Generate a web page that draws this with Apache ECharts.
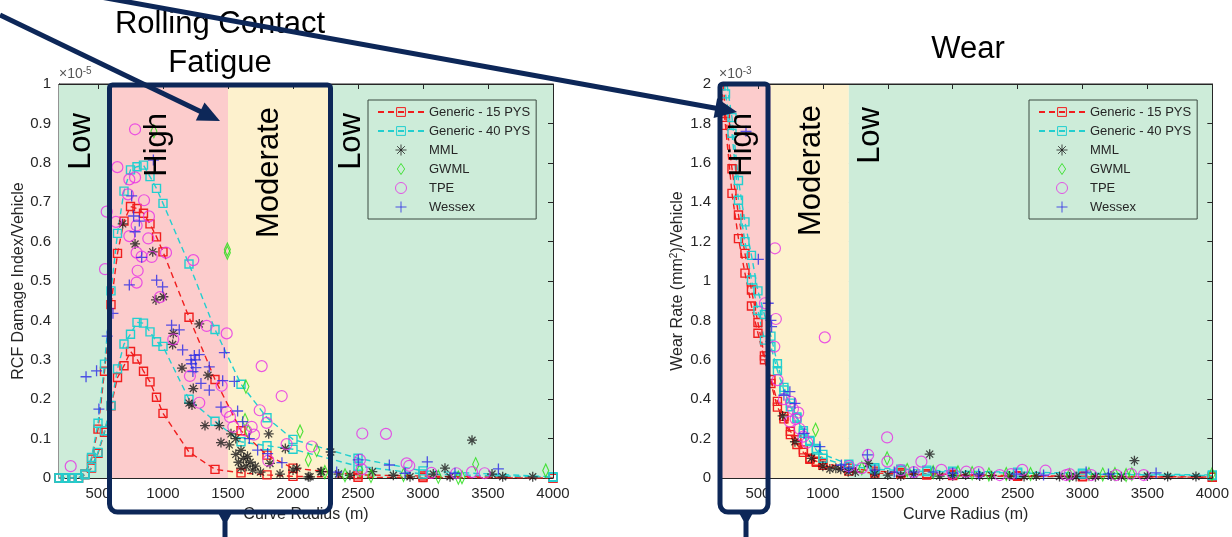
<!DOCTYPE html>
<html>
<head>
<meta charset="utf-8">
<title>RCF damage and wear vs curve radius</title>
<script src="https://cdn.jsdelivr.net/npm/echarts@6/dist/echarts.min.js"></script>
<style>
  html, body { margin: 0; padding: 0; background: #fff; }
  #chart { width: 1232px; height: 537px; }
</style>
</head>
<body>
<div id="chart"></div>
<script>
// ---- data ----
const xTicks = [500, 1000, 1500, 2000, 2500, 3000, 3500, 4000];
const legendNames = ['Generic - 15 PYS', 'Generic - 40 PYS', 'MML', 'GWML', 'TPE', 'Wessex'];

// radii of the generic model runs
const genericRadius = [200, 250, 300, 350, 400, 450, 500, 550, 600, 650, 700, 750, 800, 850, 900, 950, 1000, 1200, 1400, 1600, 1800, 2000, 2500, 3000, 4000];

// RCF damage index (x1e-5)
const rcf15Upper = [0, 0, 0, 0, 0.01, 0.048, 0.124, 0.271, 0.44, 0.57, 0.652, 0.689, 0.684, 0.672, 0.645, 0.612, 0.574, 0.408, 0.25, 0.12, 0.058, 0.025, 0.008, 0.005, 0];
const rcf15Lower = [0, 0, 0, 0, 0.008, 0.025, 0.063, 0.116, 0.183, 0.255, 0.285, 0.321, 0.302, 0.271, 0.244, 0.205, 0.164, 0.066, 0.022, 0.013, 0.008, 0.004, 0.002, 0.001, 0];
const rcf40Upper = [0, 0, 0, 0, 0.01, 0.052, 0.139, 0.289, 0.475, 0.621, 0.728, 0.782, 0.79, 0.794, 0.765, 0.735, 0.697, 0.543, 0.377, 0.238, 0.153, 0.098, 0.05, 0.018, 0.003];
const rcf40Lower = [0, 0, 0, 0, 0.008, 0.027, 0.065, 0.12, 0.184, 0.277, 0.34, 0.365, 0.395, 0.393, 0.371, 0.346, 0.334, 0.2, 0.144, 0.092, 0.082, 0.073, 0.03, 0.01, 0.002];

const rcfMML = [[690,0.645],[785,0.594],[921,0.574],[946,0.452],[1003,0.46],[1079,0.367],[1074,0.339],[1279,0.391],[1146,0.279],[1233,0.227],[1346,0.261],[1223,0.185],[1200,0.19],[1323,0.133],[1433,0.133],[1446,0.09],[1510,0.084],[1523,0.112],[1560,0.06],[1580,0.04],[1600,0.07],[1620,0.05],[1640,0.03],[1650,0.055],[1670,0.04],[1690,0.02],[1710,0.03],[1600,0.025],[1560,0.1],[1813,0.112],[1941,0.075],[1823,0.037],[2028,0.025],[2118,0.003],[2221,0.016],[2290,0.066],[2213,0.016],[2131,0.003],[2438,0.007],[2610,0.016],[2772,0.007],[2900,0.003],[3079,0.01],[3169,0.025],[3208,0.003],[3377,0.096],[3531,0.01],[3613,0.003],[3844,0.003],[1750,0.015],[1900,0.01],[2000,0.02],[2350,0.01]];
const rcfGWML = [[930,0.88],[1495,0.572],[1495,0.58],[1638,0.232],[1631,0.147],[2054,0.118],[2118,0.046],[2182,0.071],[1656,0.118],[2245,0.015],[2400,0.007],[2515,0.02],[3118,0.003],[3272,0.001],[3300,0.002],[3405,0.035],[3944,0.019],[2600,0.005],[2850,0.008]];
const rcfTPE = [[785,0.885],[649,0.789],[567,0.676],[554,0.53],[741,0.758],[785,0.763],[731,0.72],[854,0.705],[638,0.65],[741,0.614],[797,0.641],[892,0.664],[887,0.608],[797,0.572],[836,0.562],[913,0.561],[1023,0.572],[1233,0.553],[805,0.526],[797,0.496],[977,0.459],[1336,0.386],[1490,0.367],[1079,0.352],[1207,0.259],[1451,0.234],[1279,0.191],[1759,0.284],[1913,0.208],[1490,0.168],[1515,0.155],[1744,0.172],[1682,0.13],[1797,0.14],[1951,0.086],[2144,0.08],[1810,0.044],[290,0.03],[1541,0.13],[2533,0.113],[2715,0.112],[2515,0.046],[2874,0.037],[2894,0.031],[2528,0.022],[3064,0.013],[3256,0.012],[3377,0.015],[3474,0.012],[1640,0.12],[1700,0.11]];
const rcfWessex = [[741,0.49],[951,0.502],[997,0.485],[836,0.56],[774,0.665],[785,0.625],[818,0.652],[759,0.716],[926,0.807],[408,0.257],[489,0.272],[507,0.175],[571,0.36],[615,0.418],[1066,0.388],[1125,0.376],[1151,0.325],[1215,0.3],[1241,0.311],[1279,0.313],[1253,0.28],[1292,0.24],[1356,0.282],[1356,0.223],[1472,0.318],[1459,0.247],[1549,0.245],[1446,0.18],[1574,0.17],[1613,0.143],[1728,0.071],[1805,0.062],[1915,0.039],[1664,0.1],[2502,0.046],[2741,0.033],[3033,0.041],[3580,0.023],[2336,0.015],[2862,0.012],[3246,0.012],[1220,0.29],[1230,0.27],[1250,0.3]];

// wear rate (x1e-3)
const wear15Upper = [2.3, 1.85, 1.57, 1.335, 1.14, 0.954, 0.789, 0.62, 0.5, 0.389, 0.313, 0.237, 0.194, 0.143, 0.1, 0.085, 0.075, 0.05, 0.035, 0.028, 0.022, 0.018, 0.012, 0.009, 0.005];
const wear15Lower = [2.1, 1.79, 1.445, 1.215, 1.04, 0.873, 0.735, 0.6, 0.48, 0.36, 0.3, 0.22, 0.17, 0.13, 0.095, 0.08, 0.065, 0.035, 0.025, 0.02, 0.015, 0.012, 0.008, 0.006, 0.004];
const wear40Upper = [2.5, 2.05, 1.83, 1.51, 1.3, 1.13, 0.95, 0.83, 0.72, 0.58, 0.46, 0.38, 0.31, 0.24, 0.19, 0.15, 0.12, 0.07, 0.052, 0.045, 0.04, 0.035, 0.03, 0.025, 0.015];
const wear40Lower = [2.3, 1.95, 1.75, 1.41, 1.2, 1.005, 0.85, 0.7, 0.667, 0.545, 0.447, 0.362, 0.303, 0.227, 0.185, 0.142, 0.1, 0.06, 0.045, 0.038, 0.033, 0.03, 0.025, 0.02, 0.012];

const wearMML = [[690,0.315],[785,0.184],[913,0.1],[1054,0.046],[1138,0.044],[1349,0.074],[1195,0.032],[1823,0.121],[3400,0.088],[2208,0.01],[2438,0.01],[2644,0.01],[2823,0.008],[2951,0.008],[3220,0.01],[3656,0.008],[3874,0.008],[1000,0.06],[1100,0.05],[1250,0.03],[1400,0.02],[1500,0.015],[1600,0.01],[1700,0.02],[1900,0.01],[2000,0.012],[2100,0.015],[2300,0.012],[2550,0.008],[2900,0.005],[3100,0.006],[3300,0.006],[3500,0.01]];
const wearGWML = [[944,0.245],[1495,0.1],[2041,0.029],[2279,0.018],[2413,0.02],[3156,0.018],[3336,0.015],[3997,0.018],[1650,0.04],[1850,0.03],[2150,0.025],[2600,0.02],[2900,0.015],[3050,0.02],[3250,0.02],[3380,0.02],[1300,0.05]];
const wearTPE = [[1015,0.714],[638,0.807],[554,0.887],[626,0.667],[631,1.166],[651,0.497],[754,0.387],[810,0.332],[746,0.286],[849,0.21],[1495,0.206],[1349,0.117],[1497,0.083],[1759,0.083],[1913,0.041],[2105,0.032],[2362,0.015],[2536,0.041],[2715,0.037],[2874,0.015],[3067,0.015],[3259,0.015],[3374,0.02],[3472,0.015],[770,0.35],[790,0.3],[820,0.25],[880,0.18],[700,0.4],[1200,0.06],[1300,0.05],[1600,0.04],[1700,0.03],[2000,0.02],[2200,0.03],[2450,0.02],[2900,0.02]];
const wearWessex = [[408,1.76],[503,1.11],[579,0.887],[605,0.768],[746,0.438],[785,0.379],[856,0.227],[977,0.159],[1343,0.117],[1143,0.066],[2490,0.02],[3028,0.03],[3567,0.026],[1200,0.05],[1400,0.04],[1550,0.03],[1700,0.03],[1850,0.03],[2000,0.025],[2200,0.02],[2700,0.015],[3200,0.02],[700,0.42],[600,0.8]];

// severity zones (curve radius edges)
const rcfZoneEdges = [200, 600, 1500, 2300, 4000];
const rcfZoneLevels = ['Low', 'High', 'Moderate', 'Low'];
const wearZoneEdges = [200, 600, 1200, 4000];
const wearZoneLevels = ['High', 'Moderate', 'Low'];

// ---- style ----
const FONT = '"Liberation Sans", Arial, sans-serif';
const NAVY = '#0d2758';
const AXIS = '#262626';
const zoneColor = { Low: '#cdecd9', High: '#fccccc', Moderate: '#fdf1cd' };
const RED = '#f01e1e';
const CYAN = '#22cfcf';

const chart = echarts.init(document.getElementById('chart'));

function genericSeries(name, color, idx, ys) {
    return {
        name, type: 'line', xAxisIndex: idx, yAxisIndex: idx, z: 2,
        data: genericRadius.map((r, i) => [r, ys[i]]),
        symbol: 'rect', symbolSize: 8,
        lineStyle: { color, width: 1.4, type: [6, 4] },
        itemStyle: { color: 'transparent', borderColor: color, borderWidth: 1.4 }
    };
}

function pointSeries(name, symbol, size, color, idx, data, width) {
    return {
        name, type: 'scatter', xAxisIndex: idx, yAxisIndex: idx, z: 3,
        data, symbol, symbolSize: size, symbolKeepAspect: true,
        itemStyle: { color: 'transparent', borderColor: color, borderWidth: width }
    };
}

function zoneSeries(idx, edges, levels, yMax) {
    return {
        type: 'scatter', xAxisIndex: idx, yAxisIndex: idx, data: [], z: -1, silent: true,
        markArea: {
            silent: true,
            data: levels.map((lv, i) => [
                { xAxis: edges[i], yAxis: 0, itemStyle: { color: zoneColor[lv], opacity: 1 } },
                { xAxis: edges[i + 1], yAxis: yMax }
            ])
        }
    };
}

const ASTERISK = 'path://M5,0V10M0,5H10M1.5,1.5L8.5,8.5M8.5,1.5L1.5,8.5';
const PLUS = 'path://M5,0V10M0,5H10';
const DIAMOND = 'path://M4,0L8,6L4,12L0,6Z';

function chartSeries(idx, g15a, g15b, g40a, g40b, mml, gwml, tpe, wessex, yMax, edges, levels) {
    return [
        zoneSeries(idx, edges, levels, yMax),
        genericSeries('Generic - 15 PYS', RED, idx, g15a),
        genericSeries('Generic - 15 PYS', RED, idx, g15b),
        genericSeries('Generic - 40 PYS', CYAN, idx, g40a),
        genericSeries('Generic - 40 PYS', CYAN, idx, g40b),
        pointSeries('MML', ASTERISK, 10, '#1c1c1c', idx, mml, 1.3),
        pointSeries('GWML', DIAMOND, [9, 13], '#22dd11', idx, gwml, 1.2),
        pointSeries('TPE', 'circle', 11, '#e62ee6', idx, tpe, 1.2),
        pointSeries('Wessex', PLUS, 11, '#2b2be6', idx, wessex, 1.3)
    ];
}

function xAxisBottom(grid) {
    return {
        type: 'value', gridIndex: grid, min: 200, max: 4000, position: 'bottom',
        axisLine: { show: true, onZero: false, lineStyle: { color: AXIS } },
        axisTick: { show: true, inside: true, length: 5, customValues: xTicks, lineStyle: { color: AXIS } },
        axisLabel: { customValues: xTicks, fontSize: 15, color: AXIS, fontFamily: FONT, margin: 8, formatter: v => String(v) },
        splitLine: { show: true, lineStyle: { color: 'rgba(38,38,38,0.15)' } },
        name: 'Curve Radius (m)', nameLocation: 'middle', nameGap: 29,
        nameTextStyle: { fontSize: 16, color: AXIS, fontFamily: FONT }
    };
}
function xAxisTop(grid) {
    return {
        type: 'value', gridIndex: grid, min: 200, max: 4000, position: 'top', z: 5,
        axisLine: { show: true, onZero: false, lineStyle: { color: AXIS } },
        axisTick: { show: true, inside: true, length: 5, customValues: xTicks, lineStyle: { color: AXIS } },
        axisLabel: { show: false }, splitLine: { show: false }
    };
}
function yAxisLeft(grid, max, step, name) {
    return {
        type: 'value', gridIndex: grid, min: 0, max, interval: step, position: 'left',
        axisLine: { show: true, onZero: false, lineStyle: { color: AXIS } },
        axisTick: { show: true, inside: true, length: 5, lineStyle: { color: AXIS } },
        axisLabel: { fontSize: 15, color: AXIS, fontFamily: FONT, margin: 8 },
        splitLine: { show: true, lineStyle: { color: 'rgba(38,38,38,0.15)' } },
        name, nameLocation: 'middle', nameGap: 32,
        nameTextStyle: {
            fontSize: 16, color: AXIS, fontFamily: FONT,
            rich: {
                a: { fontSize: 16, lineHeight: 18, color: AXIS, fontFamily: FONT },
                sup: { fontSize: 10, lineHeight: 10, verticalAlign: 'top', color: AXIS, fontFamily: FONT }
            }
        }
    };
}
function yAxisRight(grid, max, step) {
    return {
        type: 'value', gridIndex: grid, min: 0, max, interval: step, position: 'right', z: 5,
        axisLine: { show: true, onZero: false, lineStyle: { color: AXIS } },
        axisTick: { show: true, inside: true, length: 5, lineStyle: { color: AXIS } },
        axisLabel: { show: false }, splitLine: { show: false }
    };
}

function legendAt(left) {
    return {
        left, top: 100, orient: 'vertical', data: legendNames, selectedMode: false,
        itemWidth: 46, itemHeight: 11, itemGap: 5, padding: [5, 6, 5, 9],
        symbolKeepAspect: true,
        backgroundColor: zoneColor.Low, borderColor: '#3b4a40', borderWidth: 1,
        itemStyle: { borderWidth: 1 },
        textStyle: { fontSize: 13, lineHeight: 14, color: AXIS, fontFamily: FONT }
    };
}

// ---- annotation helpers ----
function arrow(sx, sy, tx, ty) {
    const len = Math.hypot(tx - sx, ty - sy);
    const ux = (tx - sx) / len, uy = (ty - sy) / len;
    const bx = tx - ux * 22, by = ty - uy * 22;
    return [
        { type: 'line', z: 100, shape: { x1: sx, y1: sy, x2: bx + ux * 2, y2: by + uy * 2 }, style: { stroke: NAVY, lineWidth: 5 } },
        { type: 'polygon', z: 100, shape: { points: [[tx, ty], [bx - uy * 10, by + ux * 10], [bx + uy * 10, by - ux * 10]] }, style: { fill: NAVY } }
    ];
}
function callout(x1, x2, y1, y2, cx) {
    return [
        { type: 'rect', z: 100, shape: { x: x1, y: y1, width: x2 - x1, height: y2 - y1, r: [3, 3, 8, 8] }, style: { fill: 'none', stroke: NAVY, lineWidth: 5 } },
        { type: 'polygon', z: 100, shape: { points: [[cx - 8, y2 - 1], [cx + 8, y2 - 1], [cx + 2.5, y2 + 9], [cx + 2.5, 540], [cx - 2.5, 540], [cx - 2.5, y2 + 9]] }, style: { fill: NAVY } }
    ];
}
function zoneLabel(text, x, top) {
    return {
        type: 'text', z: 60, x, y: top, rotation: Math.PI / 2,
        style: { text, font: '31px ' + FONT, fill: '#000', textAlign: 'right', textVerticalAlign: 'middle' }
    };
}
function title(text, x, y) {
    return { type: 'text', z: 60, x, y, style: { text, font: '31px ' + FONT, fill: '#000', textAlign: 'center', textVerticalAlign: 'middle' } };
}
function exponent(text, x) {
    return {
        type: 'text', z: 60, x, y: 82,
        style: {
            text: '{a|×10}{s|' + text + '}', textAlign: 'left', textVerticalAlign: 'bottom',
            rich: {
                a: { fontSize: 14, lineHeight: 16, fill: '#555', fontFamily: FONT },
                s: { fontSize: 10, lineHeight: 10, verticalAlign: 'top', fill: '#555', fontFamily: FONT }
            }
        }
    };
}

chart.setOption({
    animation: false,
    textStyle: { fontFamily: FONT },
    grid: [
        { left: 59, top: 84, width: 494, height: 394, show: true, borderColor: AXIS, borderWidth: 1, backgroundColor: 'transparent' },
        { left: 719, top: 84, width: 494, height: 394, show: true, borderColor: AXIS, borderWidth: 1, backgroundColor: 'transparent' }
    ],
    xAxis: [xAxisBottom(0), xAxisBottom(1), xAxisTop(0), xAxisTop(1)],
    yAxis: [
        yAxisLeft(0, 1, 0.1, 'RCF Damage Index/Vehicle'),
        yAxisLeft(1, 2, 0.2, '{a|Wear Rate (mm}{sup|2}{a|)/Vehicle}'),
        yAxisRight(0, 1, 0.1),
        yAxisRight(1, 2, 0.2)
    ],
    legend: [legendAt(368), legendAt(1029)],
    series: [
        ...chartSeries(0, rcf15Upper, rcf15Lower, rcf40Upper, rcf40Lower, rcfMML, rcfGWML, rcfTPE, rcfWessex, 1, rcfZoneEdges, rcfZoneLevels),
        ...chartSeries(1, wear15Upper, wear15Lower, wear40Upper, wear40Lower, wearMML, wearGWML, wearTPE, wearWessex, 2, wearZoneEdges, wearZoneLevels)
    ],
    graphic: [
        title('Rolling Contact', 220, 24),
        title('Fatigue', 220, 63),
        title('Wear', 968, 49),
        exponent('-5', 59),
        exponent('-3', 719),
        zoneLabel('Low', 81, 113),
        zoneLabel('High', 157, 113),
        zoneLabel('Moderate', 269, 107),
        zoneLabel('Low', 351, 113),
        zoneLabel('High', 742, 113),
        zoneLabel('Moderate', 811, 105),
        zoneLabel('Low', 870, 107),
        ...callout(109.5, 330.5, 85, 512, 225),
        ...callout(720, 768, 84, 512, 746),
        ...arrow(0, 15, 220, 121),
        ...arrow(95, -4, 737, 112)
    ]
});
</script>
</body>
</html>
